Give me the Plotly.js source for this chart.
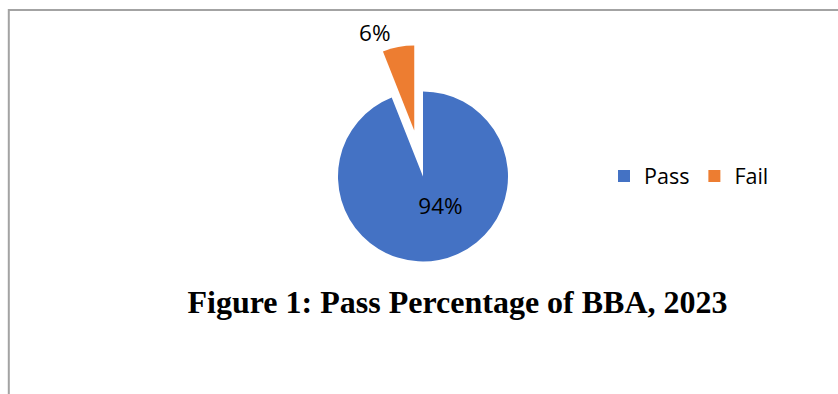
<!DOCTYPE html>
<html>
<head>
<meta charset="utf-8">
<script src="https://cdn.plot.ly/plotly-3.0.1.min.js"></script>
<style>
  html, body { margin: 0; padding: 0; background: #ffffff; }
  #chart { width: 838px; height: 394px; }
</style>
</head>
<body>
<div id="chart"></div>
<script>
const categories = ["Pass", "Fail"];
const values = [94, 6];
const sliceColors = ["#4472C4", "#ED7D31"];
const pulls = [0, 0.55];
const labelPositions = ["inside", "outside"];
const chartTitle = "Figure 1: Pass Percentage of BBA, 2023";

const W = 838, H = 394;
const cx = 423, cy = 176.5, r = 85;
const half = r * (1 + Math.max(...pulls));
const pad = "\u00a0".repeat(6);

const trace = {
  type: "pie",
  labels: categories,
  values: values,
  sort: false,
  direction: "clockwise",
  rotation: 0,
  pull: pulls,
  marker: { colors: sliceColors, line: { width: 0 } },
  textinfo: "percent",
  texttemplate: [pad + "%{percent:.0%}", "%{percent:.0%}"],
  textposition: labelPositions,
  insidetextorientation: "horizontal",
  textfont: { family: "Open Sans", size: 22.5, color: "#000000" },
  outsidetextfont: { family: "Open Sans", size: 22.5, color: "#000000" },
  insidetextfont: { family: "Open Sans", size: 22.5, color: "#000000" },
  hoverinfo: "label+percent",
  domain: {
    x: [(cx - half) / W, (cx + half) / W],
    y: [1 - (cy + half) / H, 1 - (cy - half) / H]
  }
};

const layout = {
  width: W,
  height: H,
  margin: { l: 0, r: 0, t: 0, b: 0 },
  paper_bgcolor: "#ffffff",
  plot_bgcolor: "#ffffff",
  showlegend: true,
  legend: {
    orientation: "h",
    x: 604 / W,
    xanchor: "left",
    y: 1 - 176 / H,
    yanchor: "middle",
    font: { family: "Open Sans", size: 21.5, color: "#000000" },
    itemwidth: 30,
    traceorder: "normal"
  },
  title: {
    text: "<b>" + chartTitle + "</b>",
    font: { family: "Liberation Serif", size: 32, color: "#000000" },
    x: 457.5 / W,
    xanchor: "center",
    xref: "paper",
    y: 1 - 302 / H,
    yref: "container",
    yanchor: "middle"
  },
  shapes: [
    { type: "line", xref: "paper", yref: "paper", x0: 8.8 / W, x1: 1, y0: 1 - 10 / H, y1: 1 - 10 / H,
      line: { color: "#a3a3a3", width: 2 } },
    { type: "line", xref: "paper", yref: "paper", x0: 8.8 / W, x1: 8.8 / W, y0: 0, y1: 1 - 9 / H,
      line: { color: "#a3a3a3", width: 2 } }
  ]
};

Plotly.newPlot("chart", [trace], layout, { displayModeBar: false, staticPlot: true });
</script>
</body>
</html>
